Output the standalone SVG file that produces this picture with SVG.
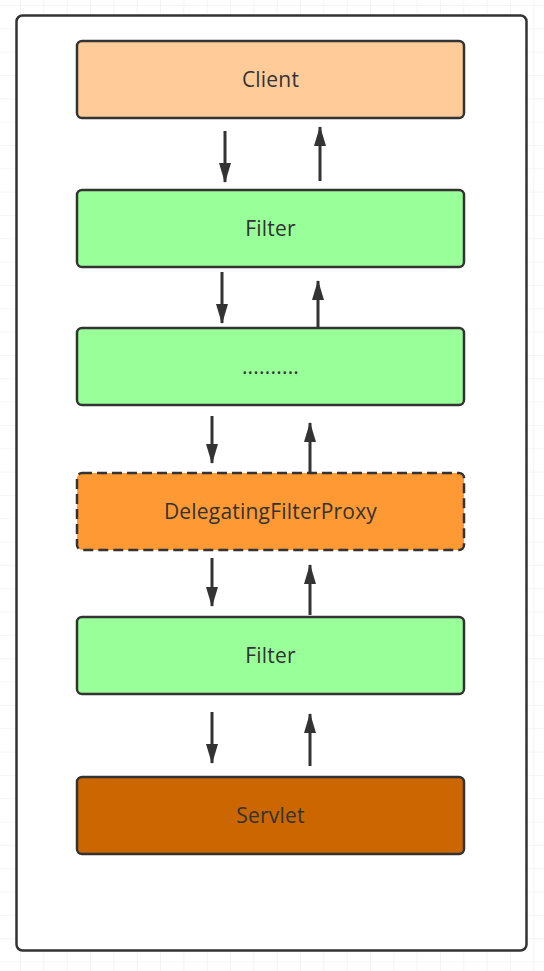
<svg xmlns="http://www.w3.org/2000/svg" width="544" height="971" viewBox="0 0 544 971">
<style>
.box{stroke:#333;stroke-width:2.5}
.lbl{font-family:"Open Sans","Noto Sans",sans-serif;font-size:21px;fill:#333;text-anchor:middle;letter-spacing:0.2px}
.arr{stroke:#333;stroke-width:3;fill:none}
</style>
<defs>
<pattern id="grid" x="-3.3" y="5" width="23.33" height="23.33" patternUnits="userSpaceOnUse">
<path d="M0 0H23.33M0 0V23.33" stroke="#ececec" stroke-width="1.2" fill="none"/>
</pattern>
<marker id="ah" viewBox="0 0 20 12" refX="19" refY="6" markerWidth="20" markerHeight="12" markerUnits="userSpaceOnUse" orient="auto">
<path d="M0 0L20 6L0 12Z" fill="#333"/>
</marker>
</defs>
<rect width="544" height="971" fill="#fff"/>
<rect width="544" height="971" fill="url(#grid)"/>
<g id="container"><rect x="16.5" y="15.5" width="510" height="935" rx="6" fill="#fff" class="box"/></g>
<g id="client"><rect x="77" y="41" width="387" height="77" rx="5" fill="#FFCC99" class="box"/><text x="270.5" y="87" class="lbl">Client</text></g>
<g id="filter1"><rect x="77" y="190" width="387" height="77" rx="5" fill="#99FF99" class="box"/><text x="270.5" y="236" class="lbl">Filter</text></g>
<g id="dots"><rect x="77" y="328" width="387" height="77" rx="5" fill="#99FF99" class="box"/><text x="270.5" y="374" class="lbl">..........</text></g>
<g id="proxy"><rect x="77" y="473" width="387" height="77" rx="5" fill="#FF9933" class="box" stroke-dasharray="10 5"/><text x="270.5" y="519" class="lbl">DelegatingFilterProxy</text></g>
<g id="filter2"><rect x="77" y="617" width="387" height="77" rx="5" fill="#99FF99" class="box"/><text x="270.5" y="663" class="lbl">Filter</text></g>
<g id="servlet"><rect x="77" y="777" width="387" height="77" rx="5" fill="#CC6600" class="box"/><text x="270.5" y="823" class="lbl">Servlet</text></g>
<g id="connectors">
<line x1="225" y1="131" x2="225" y2="182" class="arr" marker-end="url(#ah)"/>
<line x1="320" y1="181" x2="320" y2="127" class="arr" marker-end="url(#ah)"/>
<line x1="222" y1="272" x2="222" y2="323" class="arr" marker-end="url(#ah)"/>
<line x1="318" y1="327" x2="318" y2="281" class="arr" marker-end="url(#ah)"/>
<line x1="212" y1="416" x2="212" y2="463" class="arr" marker-end="url(#ah)"/>
<line x1="310" y1="472" x2="310" y2="423" class="arr" marker-end="url(#ah)"/>
<line x1="212" y1="558" x2="212" y2="606" class="arr" marker-end="url(#ah)"/>
<line x1="310" y1="615" x2="310" y2="565" class="arr" marker-end="url(#ah)"/>
<line x1="212" y1="712" x2="212" y2="763" class="arr" marker-end="url(#ah)"/>
<line x1="310" y1="766" x2="310" y2="714" class="arr" marker-end="url(#ah)"/>
</g>
</svg>
